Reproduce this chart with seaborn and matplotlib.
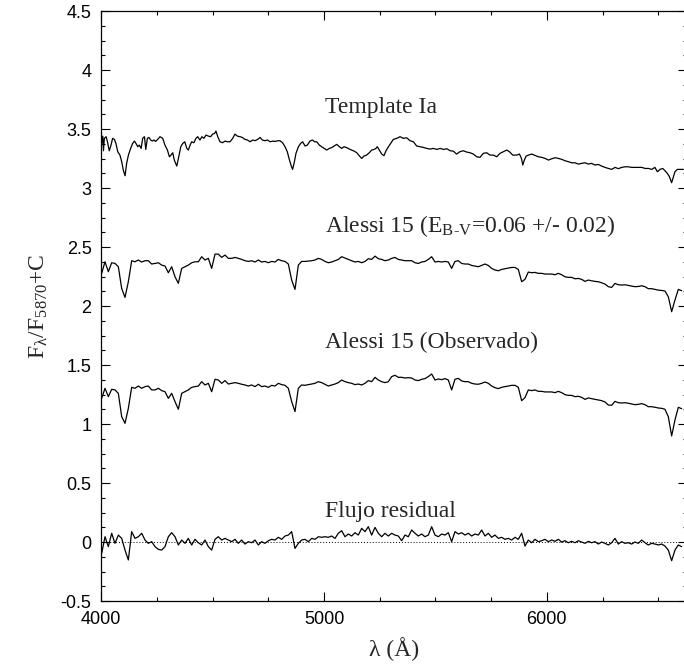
import numpy as np
import matplotlib
matplotlib.use("Agg")
import matplotlib.pyplot as plt
from matplotlib.ticker import MultipleLocator, FuncFormatter
import seaborn as sns

# espectro template (lambda, flujo)
template_pts = [
    (4002, 3.378), (4007, 3.440), (4010, 3.316), (4014, 3.421), (4022, 3.435), (4028, 3.392),
    (4036, 3.316), (4044, 3.364), (4051, 3.421), (4059, 3.412), (4066, 3.378), (4074, 3.308),
    (4084, 3.279), (4092, 3.223), (4099, 3.152), (4107, 3.104), (4114, 3.209), (4122, 3.279),
    (4132, 3.336), (4141, 3.378), (4149, 3.398), (4156, 3.378), (4164, 3.350), (4171, 3.364),
    (4179, 3.336), (4186, 3.421), (4194, 3.435), (4200, 3.327), (4207, 3.421), (4214, 3.429),
    (4222, 3.407), (4229, 3.398), (4237, 3.407), (4244, 3.395), (4253, 3.412), (4264, 3.435),
    (4276, 3.421), (4286, 3.364), (4297, 3.322), (4306, 3.265), (4313, 3.279), (4321, 3.299),
    (4328, 3.237), (4339, 3.186), (4348, 3.265), (4357, 3.350), (4366, 3.378), (4375, 3.392),
    (4384, 3.336), (4391, 3.322), (4399, 3.364), (4406, 3.392), (4416, 3.384), (4425, 3.421),
    (4433, 3.435), (4443, 3.407), (4452, 3.435), (4461, 3.421), (4470, 3.449), (4481, 3.440),
    (4491, 3.435), (4500, 3.457), (4509, 3.463), (4515, 3.483), (4523, 3.435), (4533, 3.392),
    (4544, 3.384), (4556, 3.398), (4566, 3.392), (4578, 3.392), (4590, 3.421), (4600, 3.457),
    (4611, 3.440), (4623, 3.435), (4633, 3.429), (4645, 3.412), (4656, 3.407), (4668, 3.392),
    (4680, 3.407), (4690, 3.401), (4702, 3.412), (4713, 3.429), (4723, 3.407), (4735, 3.401),
    (4746, 3.407), (4758, 3.392), (4770, 3.398), (4781, 3.395), (4792, 3.401), (4802, 3.401),
    (4814, 3.384), (4825, 3.350), (4835, 3.308), (4844, 3.243), (4853, 3.186), (4859, 3.158),
    (4867, 3.223), (4874, 3.294), (4885, 3.350), (4895, 3.378), (4904, 3.392), (4915, 3.356),
    (4925, 3.364), (4937, 3.398), (4948, 3.407), (4958, 3.392), (4967, 3.392), (4979, 3.364),
    (4989, 3.350), (5001, 3.336), (5012, 3.322), (5024, 3.336), (5034, 3.342), (5045, 3.356),
    (5057, 3.370), (5069, 3.350), (5079, 3.336), (5090, 3.350), (5102, 3.342), (5114, 3.330),
    (5124, 3.322), (5135, 3.313), (5147, 3.299), (5159, 3.271), (5169, 3.251), (5179, 3.271),
    (5191, 3.279), (5203, 3.299), (5214, 3.322), (5224, 3.327), (5233, 3.336), (5239, 3.350),
    (5248, 3.322), (5259, 3.288), (5269, 3.274), (5278, 3.316), (5289, 3.350), (5311, 3.412),
    (5326, 3.421), (5341, 3.435), (5356, 3.421), (5371, 3.426), (5386, 3.401), (5401, 3.392),
    (5416, 3.356), (5431, 3.350), (5446, 3.344), (5461, 3.336), (5476, 3.330), (5491, 3.336),
    (5506, 3.327), (5521, 3.336), (5536, 3.327), (5551, 3.333), (5566, 3.316), (5580, 3.313),
    (5595, 3.288), (5610, 3.308), (5625, 3.316), (5640, 3.305), (5655, 3.299), (5670, 3.288),
    (5685, 3.265), (5700, 3.260), (5715, 3.294), (5730, 3.299), (5745, 3.279), (5760, 3.279),
    (5775, 3.265), (5790, 3.294), (5805, 3.308), (5820, 3.322), (5832, 3.308), (5847, 3.279),
    (5865, 3.279), (5877, 3.288), (5886, 3.251), (5892, 3.195), (5899, 3.237), (5907, 3.271),
    (5917, 3.279), (5932, 3.288), (5947, 3.277), (5962, 3.265), (5977, 3.260), (5992, 3.251),
    (6007, 3.237), (6022, 3.248), (6037, 3.257), (6052, 3.251), (6067, 3.243), (6082, 3.231),
    (6097, 3.223), (6112, 3.214), (6126, 3.214), (6141, 3.203), (6156, 3.209), (6171, 3.214),
    (6186, 3.203), (6201, 3.209), (6216, 3.195), (6231, 3.200), (6246, 3.186), (6261, 3.175),
    (6276, 3.166), (6291, 3.158), (6306, 3.175), (6321, 3.164), (6336, 3.175), (6351, 3.180),
    (6366, 3.180), (6381, 3.175), (6396, 3.175), (6411, 3.175), (6426, 3.175), (6441, 3.166),
    (6456, 3.166), (6471, 3.158), (6485, 3.175), (6496, 3.138), (6508, 3.158), (6520, 3.166),
    (6530, 3.147), (6541, 3.124), (6550, 3.096), (6560, 3.045), (6568, 3.096), (6575, 3.138),
    (6586, 3.158), (6598, 3.158), (6613, 3.158),
]

# malla de longitudes de onda de los espectros de Alessi 15
wave = np.linspace(4002, 6605, 175)

alessi_dered = [
    2.277, 2.375, 2.291, 2.367, 2.361, 2.333, 2.149, 2.073, 2.206, 2.384,
    2.375, 2.390, 2.373, 2.384, 2.384, 2.356, 2.361, 2.367, 2.347, 2.339,
    2.282, 2.333, 2.248, 2.192, 2.319, 2.333, 2.347, 2.367, 2.375, 2.375,
    2.418, 2.390, 2.404, 2.319, 2.440, 2.440, 2.412, 2.432, 2.404, 2.404,
    2.412, 2.404, 2.395, 2.384, 2.378, 2.384, 2.373, 2.390, 2.373, 2.378,
    2.367, 2.378, 2.373, 2.395, 2.384, 2.378, 2.356, 2.220, 2.141, 2.347,
    2.378, 2.378, 2.381, 2.384, 2.390, 2.404, 2.395, 2.378, 2.367, 2.373,
    2.384, 2.395, 2.418, 2.406, 2.395, 2.384, 2.373, 2.378, 2.367, 2.378,
    2.401, 2.395, 2.423, 2.401, 2.395, 2.384, 2.390,
    2.404, 2.412, 2.395, 2.390, 2.384, 2.384, 2.384, 2.367, 2.361, 2.373,
    2.378, 2.395, 2.418, 2.373, 2.378, 2.373, 2.378, 2.373, 2.319, 2.378,
    2.384, 2.361, 2.356, 2.356, 2.344, 2.339, 2.333, 2.344, 2.356, 2.344,
    2.319, 2.305, 2.299, 2.310, 2.316, 2.322, 2.327, 2.327, 2.310, 2.206,
    2.226, 2.288, 2.282, 2.285, 2.277, 2.277, 2.271, 2.271, 2.271, 2.265,
    2.277, 2.265, 2.248, 2.243, 2.243, 2.231, 2.234, 2.226, 2.209, 2.220,
    2.214, 2.209, 2.206, 2.197, 2.186, 2.164, 2.158, 2.192, 2.180, 2.178,
    2.180, 2.175, 2.169, 2.164, 2.166, 2.172, 2.164, 2.147, 2.147, 2.141,
    2.135, 2.132, 2.127, 2.079, 1.952, 2.051, 2.141, 2.130,
]

alessi_obs = [
    1.218, 1.303, 1.232, 1.294, 1.289, 1.260, 1.063, 1.006, 1.133, 1.311,
    1.303, 1.322, 1.303, 1.317, 1.322, 1.289, 1.289, 1.303, 1.283, 1.274,
    1.218, 1.260, 1.190, 1.125, 1.260, 1.274, 1.289, 1.311, 1.317, 1.322,
    1.359, 1.331, 1.345, 1.274, 1.379, 1.373, 1.345, 1.368, 1.339, 1.345,
    1.351, 1.345, 1.337, 1.331, 1.322, 1.331, 1.317, 1.337, 1.317, 1.322,
    1.311, 1.328, 1.322, 1.345, 1.334, 1.328, 1.303, 1.190, 1.105, 1.303,
    1.331, 1.328, 1.334, 1.339, 1.345, 1.359, 1.351, 1.337, 1.322, 1.331,
    1.339, 1.351, 1.373, 1.359, 1.351, 1.345, 1.334, 1.339, 1.331, 1.345,
    1.368, 1.359, 1.396, 1.373, 1.359, 1.351, 1.359,
    1.402, 1.413, 1.396, 1.396, 1.390, 1.393, 1.390, 1.373, 1.368, 1.379,
    1.385, 1.402, 1.424, 1.373, 1.382, 1.376, 1.385, 1.373, 1.289, 1.379,
    1.387, 1.365, 1.359, 1.359, 1.345, 1.339, 1.337, 1.345, 1.356, 1.345,
    1.322, 1.308, 1.300, 1.311, 1.317, 1.322, 1.328, 1.328, 1.311, 1.198,
    1.224, 1.289, 1.283, 1.289, 1.277, 1.277, 1.272, 1.272, 1.272, 1.266,
    1.277, 1.266, 1.249, 1.243, 1.243, 1.232, 1.235, 1.226, 1.209, 1.221,
    1.215, 1.209, 1.204, 1.198, 1.187, 1.161, 1.159, 1.192, 1.181, 1.178,
    1.181, 1.176, 1.170, 1.164, 1.167, 1.173, 1.164, 1.147, 1.147, 1.142,
    1.136, 1.133, 1.125, 1.062, 0.899, 1.034, 1.142, 1.130,
]

residual = [
    -0.096, 0.045, -0.039, 0.074, -0.011, 0.059, 0.031, -0.068, -0.152, 0.088,
    0.031, 0.045, 0.074, 0.017, -0.011, 0.003, -0.039, -0.062, -0.068, -0.039,
    0.045, 0.079, 0.045, -0.025, 0.017, -0.011, 0.031, -0.025, 0.023, -0.006,
    -0.025, 0.017, -0.039, -0.068, 0.023, 0.045, 0.017, 0.031, 0.017, 0.003,
    0.023, -0.011, 0.017, -0.017, 0.003, -0.006, 0.017, -0.025, 0.003, -0.011,
    0.011, 0.023, 0.017, 0.040, 0.023, 0.051, 0.059, 0.088, -0.054, -0.011,
    0.017, 0.023, 0.003, 0.031, 0.023, 0.045, 0.040, 0.045, 0.040, 0.051,
    0.031, 0.074, 0.096, 0.045, 0.068, 0.051, 0.079, 0.059, 0.116, 0.088,
    0.130, 0.059, 0.124, 0.074, 0.045, 0.074, 0.051,
    0.074, 0.059, 0.051, 0.011, 0.059, 0.045, 0.102, 0.074, 0.051, 0.068,
    0.045, 0.059, 0.130, 0.059, 0.045, 0.068, 0.059, 0.079, 0.003, 0.088,
    0.068, 0.079, 0.059, 0.074, 0.051, 0.068, 0.059, 0.102, 0.051, 0.074,
    0.040, 0.059, 0.031, 0.040, 0.023, 0.031, 0.017, 0.040, 0.023, 0.074,
    -0.034, 0.017, -0.006, 0.023, 0.003, 0.011, 0.023, 0.003, 0.017, 0.006,
    0.023, 0.000, 0.011, -0.006, 0.006, -0.006, 0.011, 0.000, -0.011, 0.006,
    -0.006, 0.003, -0.017, 0.000, -0.011, -0.025, -0.006, 0.031, -0.017, 0.003,
    -0.011, -0.006, -0.017, 0.000, -0.011, 0.017, -0.006, -0.025, -0.011, -0.017,
    -0.025, -0.017, -0.034, -0.068, -0.158, -0.068, -0.025, -0.039,
]

labels = ["Template Ia",
          "Alessi 15 (E$_{\\mathrm{B‐V}}$=0.06 +/- 0.02)",
          "Alessi 15 (Observado)",
          "Flujo residual"]
label_y = [3.64, 2.63, 1.64, 0.21]

sns.set_theme(style="ticks")
plt.rcParams["font.family"] = ["Liberation Serif", "DejaVu Serif"]
plt.rcParams["mathtext.fontset"] = "custom"
plt.rcParams["mathtext.rm"] = "Liberation Serif"
plt.rcParams["mathtext.it"] = "Liberation Serif:italic"
plt.rcParams["axes.unicode_minus"] = False

fig = plt.figure(figsize=(6.84, 6.65), dpi=100)
ax = fig.add_axes([0.148, 0.0962, 0.8567, 0.8872])

tw = [p[0] for p in template_pts]
tf = [p[1] for p in template_pts]
lw = 0.9
sns.lineplot(x=tw, y=tf, color="black", lw=lw, ax=ax)
sns.lineplot(x=wave, y=alessi_dered, color="black", lw=lw, ax=ax)
sns.lineplot(x=wave, y=alessi_obs, color="black", lw=lw, ax=ax)
sns.lineplot(x=wave, y=residual, color="black", lw=lw, ax=ax)
ax.axhline(0, color="black", lw=0.7, ls=(0, (1, 2)))

for txt, yv in zip(labels, label_y):
    ax.text(5005, yv, txt, fontsize=17, va="baseline", ha="left")

ax.set_xlim(4000, 6630)
ax.set_ylim(-0.5, 4.5)
ax.xaxis.set_major_locator(MultipleLocator(1000))
ax.xaxis.set_minor_locator(MultipleLocator(250))
ax.yaxis.set_major_locator(MultipleLocator(0.5))
ax.yaxis.set_minor_locator(MultipleLocator(0.125))
ax.yaxis.set_major_formatter(FuncFormatter(lambda v, p: "%g" % v))
ax.tick_params(which="both", direction="in", top=True, right=True,
               color="black", width=0.8, labelsize=13, labelcolor="black",
               labelfontfamily="Liberation Sans", pad=7)
ax.tick_params(which="major", length=6.5)
ax.tick_params(which="minor", length=3)
for s in ax.spines.values():
    s.set_color("black")
    s.set_linewidth(0.9)

ax.set_xlabel("λ (Å)", fontsize=17, labelpad=7)
ax.set_ylabel("F$_{\\mathrm{λ}}$/F$_{5870}$+C", fontsize=17, labelpad=8)

plt.savefig("out.png", dpi=100)
